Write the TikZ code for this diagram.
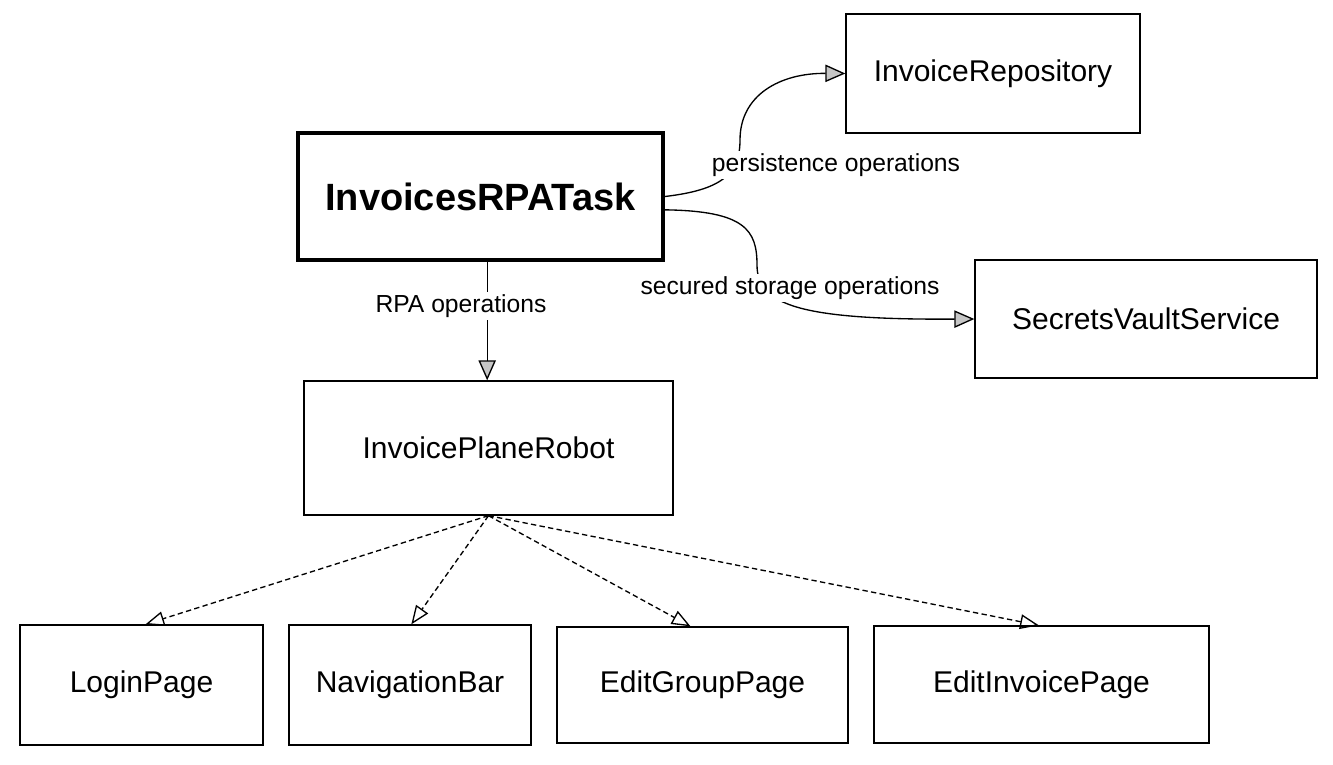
\documentclass[tikz,border=0pt]{standalone}
\usepackage{fontspec}
\setmainfont{Liberation Sans}
\usetikzlibrary{arrows.meta,calc}
\begin{document}
\begin{tikzpicture}[x=0.75pt,y=-0.75pt,
  box/.style={draw, line width=1pt, inner sep=0pt, font=\fontsize{22.5}{27}\selectfont},
  mainbox/.style={draw, line width=3pt, inner sep=0pt, font=\bfseries\fontsize{28.5}{34}\selectfont},
  lbl/.style={fill=white, inner sep=2pt, font=\fontsize{18.5}{22}\selectfont},
  hatchtip/.style={-{Triangle[length=15pt,width=13pt,fill=gray!45]}},
  opentip/.style={-{Triangle[open,length=14pt,width=11pt]}},
  edge/.style={line width=1pt},
  dep/.style={line width=1pt, dashed, dash pattern=on 4pt off 2.5pt}
]
\useasboundingbox (0,0) rectangle (1333,764);
\fill[white] (0,0) rectangle (1333,764);

\node[mainbox, minimum width=273.75pt, minimum height=95.25pt] (task) at (480.5,196.5) {InvoicesRPATask};
\node[box, minimum width=220.5pt, minimum height=89.25pt] (repo) at (993,73.5) {InvoiceRepository};
\node[box, minimum width=256.5pt, minimum height=88.5pt] (vault) at (1146,319) {SecretsVaultService};
\node[box, minimum width=276.75pt, minimum height=100.5pt] (robot) at (488.5,448) {InvoicePlaneRobot};
\node[box, minimum width=182.25pt, minimum height=90pt] (login) at (141.5,685) {LoginPage};
\node[box, minimum width=181.5pt, minimum height=90pt] (nav) at (410,685) {NavigationBar};
\node[box, minimum width=218.25pt, minimum height=87pt] (group) at (702.5,685) {EditGroupPage};
\node[box, minimum width=251.25pt, minimum height=87.75pt] (invoice) at (1041.5,684.5) {EditInvoicePage};

% persistence
\draw[edge, hatchtip] (task.east) .. controls (720,190) and (740,175) .. (740,140)
   .. controls (740,95) and (780,73) .. (repo.west);
\node[lbl] (lp) at (836,165) {persistence operations};

% secured storage
\draw[edge, hatchtip] ([yshift=-10pt]task.east) .. controls (745,211) and (757,230) .. (757,265)
   .. controls (757,305) and (800,320) .. (vault.west);
\node[lbl] (ls) at (790,288) {secured storage operations};

% RPA
\draw[edge, hatchtip] ([xshift=5pt]task.south) -- ([xshift=-1pt]robot.north);
\node[lbl] (lr) at (461,306) {RPA operations};

% dependencies
\coordinate (src) at (robot.south);
\draw[dep, opentip] (src) -- ([xshift=3pt]login.north);
\draw[dep, opentip] (src) -- ([xshift=1pt]nav.north);
\draw[dep, opentip] (src) -- ([xshift=-9pt]group.north);
\draw[dep, opentip] (src) -- ([xshift=-2pt]invoice.north);
\end{tikzpicture}
\end{document}
